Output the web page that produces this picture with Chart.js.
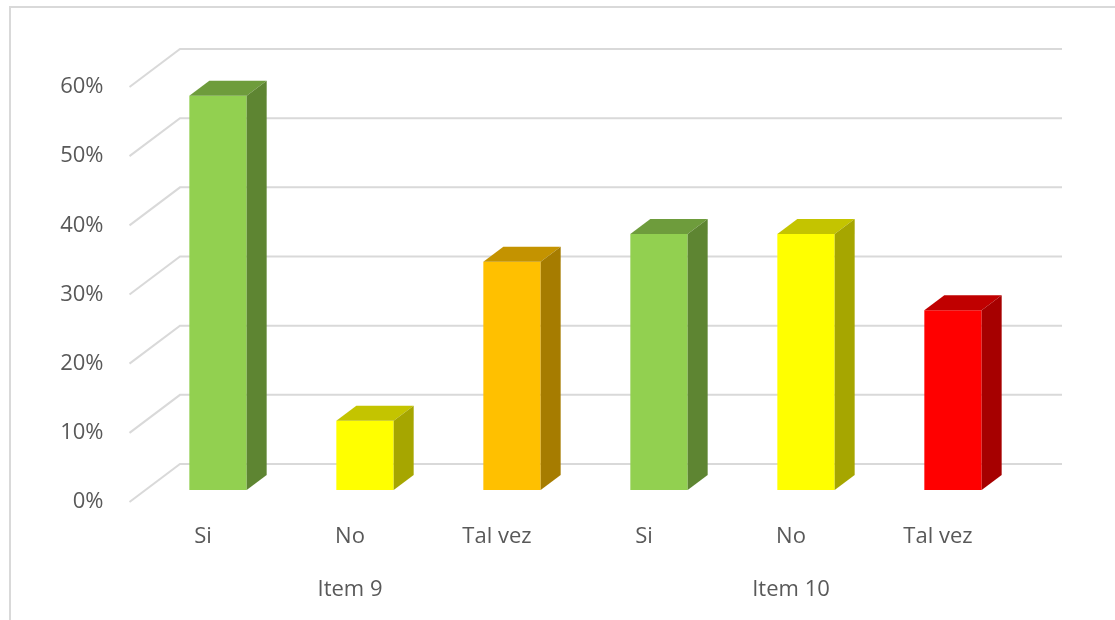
<!DOCTYPE html>
<html>
<head>
<meta charset="utf-8">
<script src="https://cdn.jsdelivr.net/npm/chart.js@4"></script>
<style>
  html, body { margin: 0; padding: 0; background: #ffffff; }
  #wrap { position: relative; width: 1115px; height: 620px; }
</style>
</head>
<body>
<div id="wrap"><canvas id="chart"></canvas></div>
<script>
const categories = ['Si', 'No', 'Tal vez', 'Si', 'No', 'Tal vez'];
const groupLabels = ['', 'Item 9', '', '', 'Item 10', ''];
const percentages = [0.57, 0.10, 0.33, 0.37, 0.37, 0.26];
const tickValues = [0, 0.1, 0.2, 0.3, 0.4, 0.5, 0.6];

const frontColors = ['#92D050', '#FFFF00', '#FFC000', '#92D050', '#FFFF00', '#FF0000'];
const topColors = ['#6E9C3C', '#C4C400', '#C49300', '#6E9C3C', '#C4C400', '#C00000'];
const sideColors = ['#5E8532', '#A6A600', '#A67C00', '#5E8532', '#A6A600', '#A60000'];

const gridColor = '#D9D9D9';
const textColor = '#595959';
const fontFamily = "'Open Sans', 'DejaVu Sans', sans-serif";

// oblique depth offsets (pixels) relative to the bar front plane
const wallShift = {x: 35.5, y: -26};
const floorShift = {x: -15, y: 12};
const barDepth = {x: 20, y: -15};

const depthPlugin = {
  id: 'depthPlugin',
  beforeDraw: (chart) => {
    const {ctx} = chart;
    ctx.save();
    ctx.fillStyle = '#ffffff';
    ctx.fillRect(0, 0, chart.width, chart.height);
    ctx.strokeStyle = gridColor;
    ctx.lineWidth = 2;
    ctx.strokeRect(10, 7, 1200, 700);
    ctx.restore();
  },
  beforeDatasetsDraw: (chart) => {
    const {ctx, chartArea} = chart;
    const yScale = chart.scales.y;
    ctx.save();
    ctx.strokeStyle = gridColor;
    ctx.lineWidth = 2;
    tickValues.forEach((v) => {
      let y = yScale.getPixelForValue(v);
      ctx.beginPath();
      ctx.moveTo(chartArea.left + floorShift.x, y + floorShift.y);
      ctx.lineTo(chartArea.left + wallShift.x, y + wallShift.y);
      ctx.lineTo(chartArea.right + wallShift.x, y + wallShift.y);
      ctx.stroke();
    });
    ctx.restore();
  },
  afterDatasetsDraw: (chart) => {
    const {ctx} = chart;
    const meta = chart.getDatasetMeta(0);
    ctx.save();
    meta.data.forEach((bar, i) => {
      const p = bar.getProps(['x', 'y', 'base', 'width'], true);
      let left = p.x - p.width / 2;
      let right = p.x + p.width / 2;
      // top face
      ctx.fillStyle = topColors[i];
      ctx.beginPath();
      ctx.moveTo(left, p.y);
      ctx.lineTo(left + barDepth.x, p.y + barDepth.y);
      ctx.lineTo(right + barDepth.x, p.y + barDepth.y);
      ctx.lineTo(right, p.y);
      ctx.closePath();
      ctx.fill();
      // side face
      ctx.fillStyle = sideColors[i];
      ctx.beginPath();
      ctx.moveTo(right, p.y);
      ctx.lineTo(right + barDepth.x, p.y + barDepth.y);
      ctx.lineTo(right + barDepth.x, p.base + barDepth.y);
      ctx.lineTo(right, p.base);
      ctx.closePath();
      ctx.fill();
    });
    ctx.restore();
  }
};

let chartCanvas = document.getElementById('chart');
new Chart(chartCanvas, {
  type: 'bar',
  data: {
    labels: categories,
    datasets: [{
      data: percentages,
      backgroundColor: frontColors,
      borderWidth: 0,
      barPercentage: 0.39,
      categoryPercentage: 1.0
    }]
  },
  options: {
    responsive: true,
    maintainAspectRatio: false,
    animation: false,
    layout: {
      padding: {left: 10, right: 88.5, top: 75, bottom: 10}
    },
    plugins: {
      legend: {display: false},
      tooltip: {enabled: false}
    },
    scales: {
      x: {
        position: 'bottom',
        grid: {display: false, drawTicks: false},
        border: {display: false},
        ticks: {
          color: textColor,
          font: {family: fontFamily, size: 22},
          padding: 34,
          labelOffset: -15,
          maxRotation: 0,
          autoSkip: false
        },
        afterFit: (scale) => { scale.height = 75; }
      },
      group: {
        type: 'category',
        position: 'bottom',
        labels: groupLabels,
        grid: {display: false, drawTicks: false},
        border: {display: false},
        ticks: {
          color: textColor,
          font: {family: fontFamily, size: 22},
          padding: 12,
          labelOffset: -15,
          maxRotation: 0,
          autoSkip: false
        },
        afterFit: (scale) => { scale.height = 45; }
      },
      y: {
        min: 0,
        max: 0.6,
        grid: {display: false, drawTicks: false},
        border: {display: false},
        afterBuildTicks: (scale) => {
          scale.ticks = tickValues.map(v => ({value: v}));
        },
        ticks: {
          color: textColor,
          font: {family: fontFamily, size: 22},
          padding: 41,
          labelOffset: 12,
          callback: value => Math.round(value * 100) + '%'
        },
        afterFit: (scale) => { scale.width = 134.5; }
      }
    }
  },
  plugins: [depthPlugin]
});
</script>
</body>
</html>
